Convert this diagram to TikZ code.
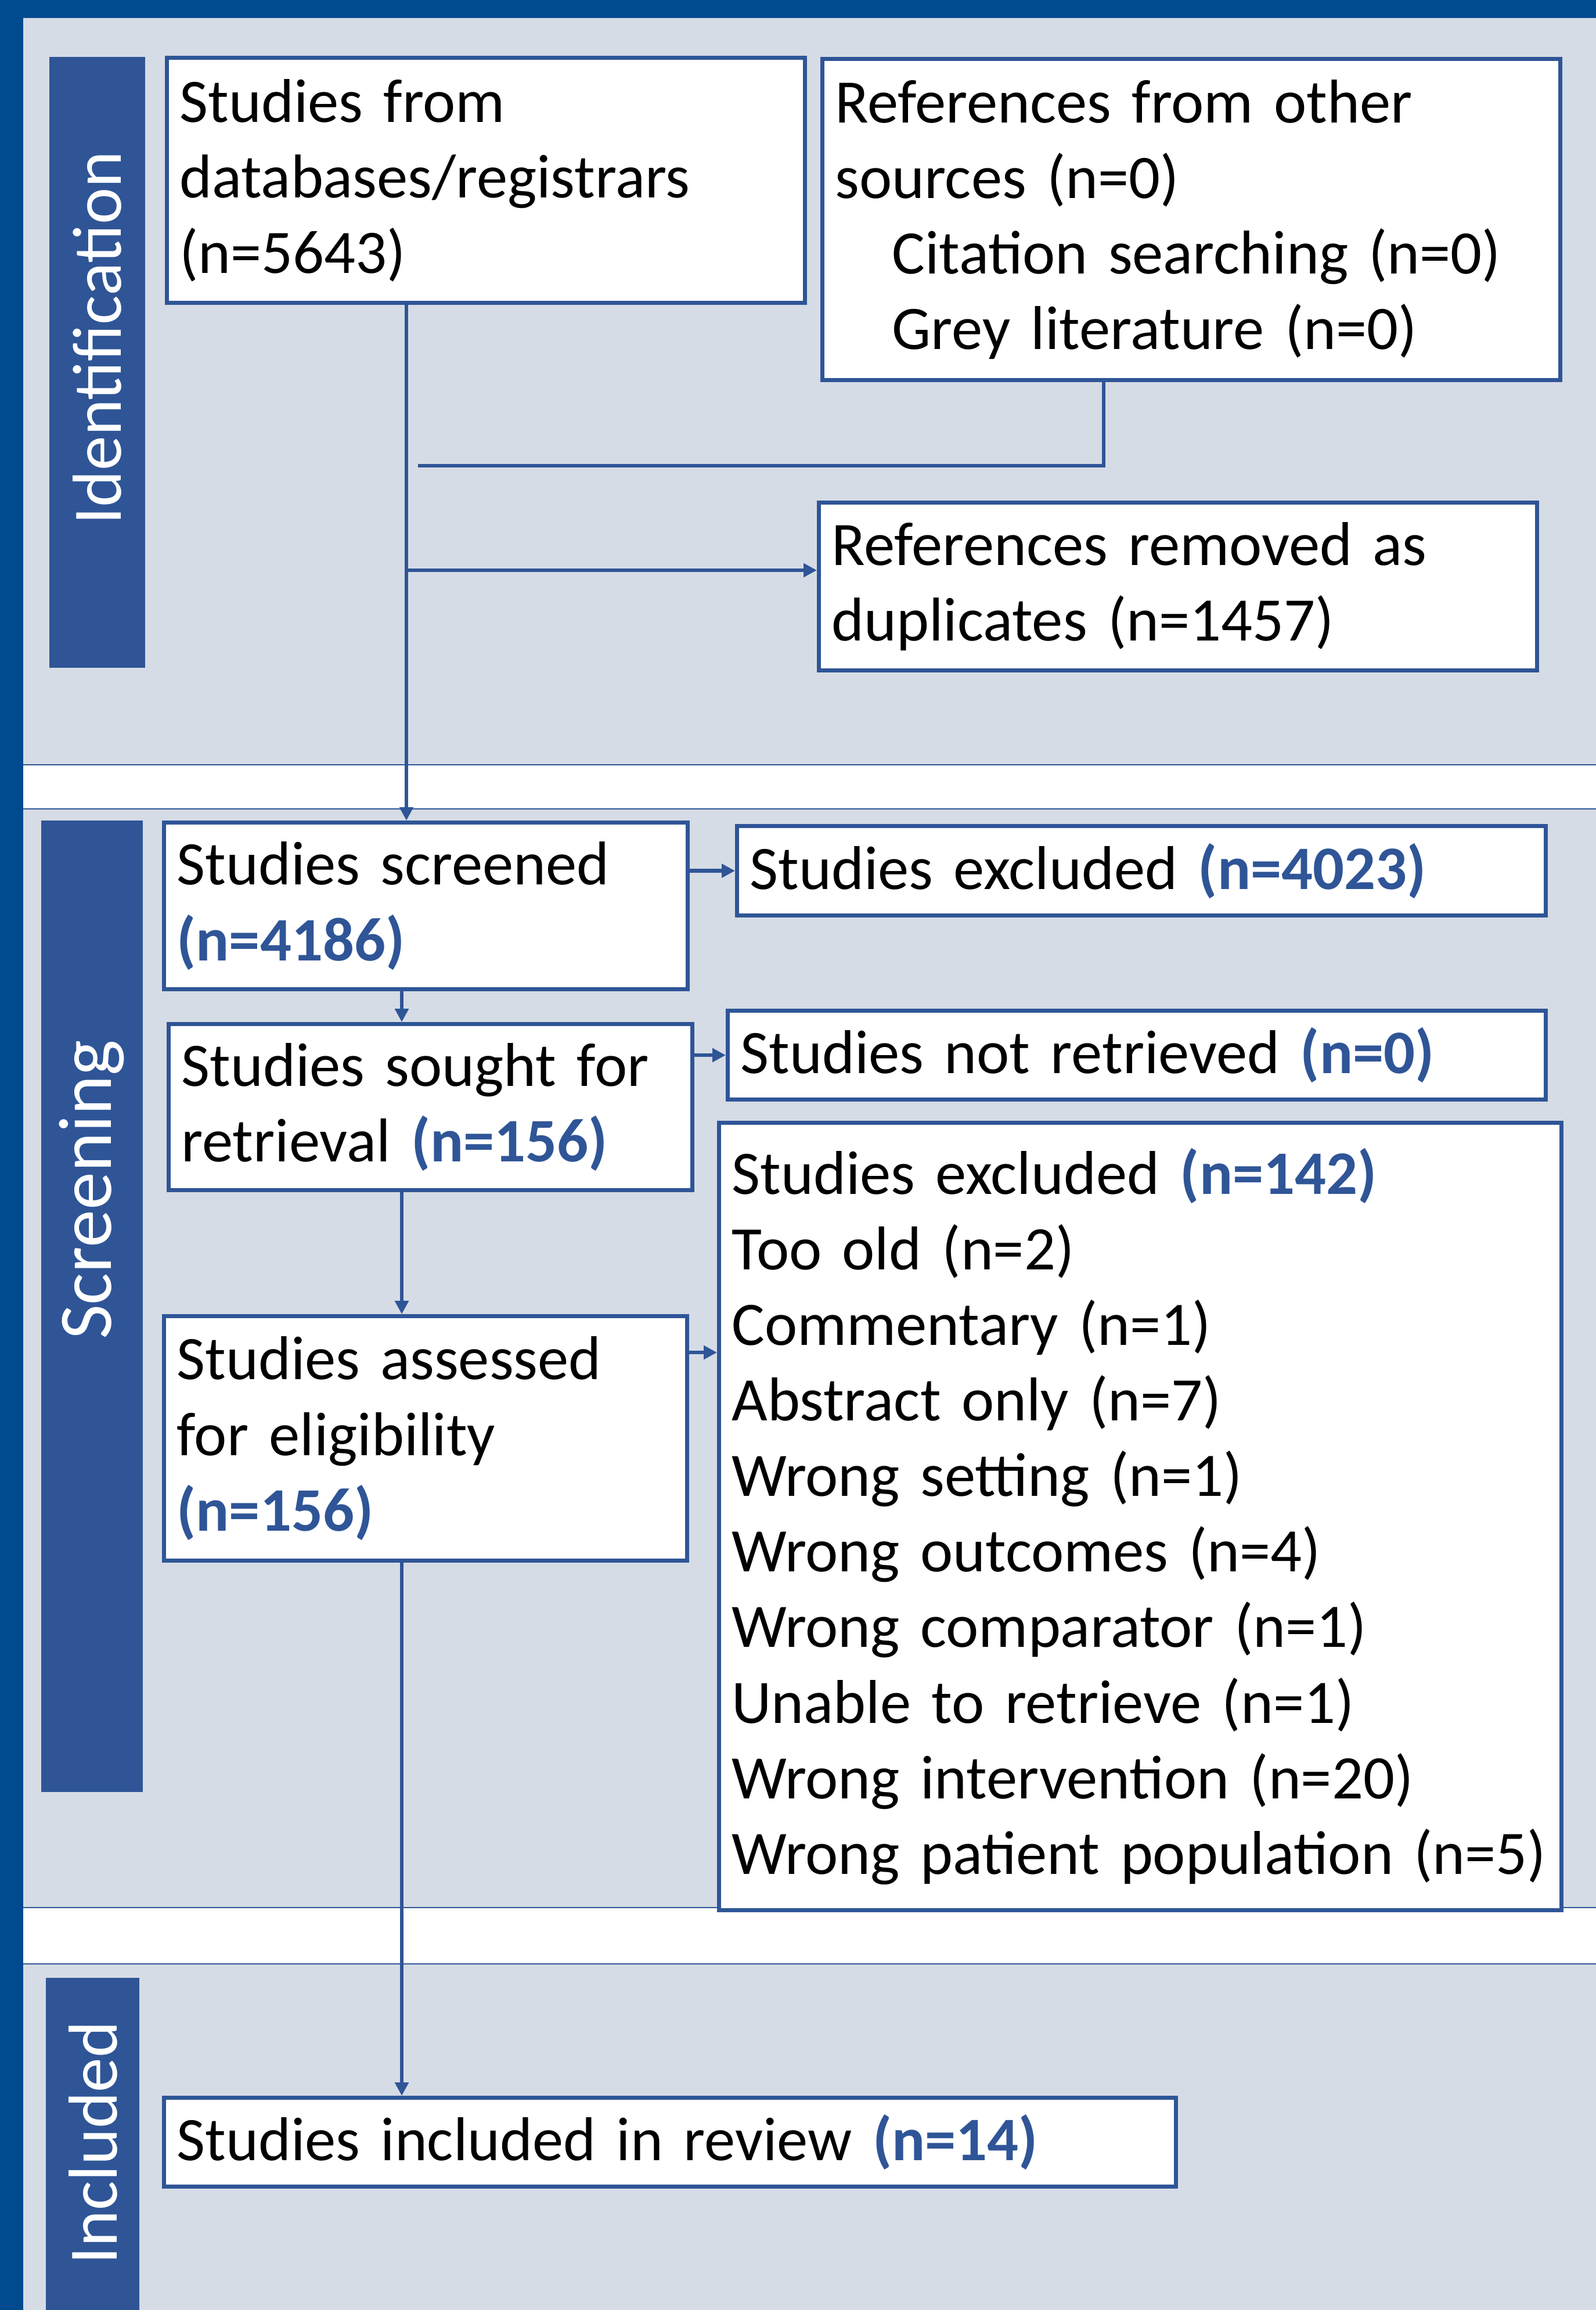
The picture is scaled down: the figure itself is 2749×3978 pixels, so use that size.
\documentclass[tikz,border=0pt]{standalone}
\usepackage{fontspec}
\setmainfont{Carlito}[WordSpace=0.7]
\usetikzlibrary{arrows.meta}

\definecolor{frameblue}{RGB}{0,74,143}
\definecolor{barblue}{RGB}{47,85,151}
\definecolor{boxblue}{RGB}{47,85,151}
\definecolor{bandgray}{RGB}{214,220,229}
\newcommand{\nblue}[1]{\textcolor{boxblue}{\textbf{#1}}}

\tikzset{
  stage/.style={draw=boxblue, line width=2pt, fill=white, anchor=north west,
    align=left, inner xsep=0.22cm, inner ysep=0pt,
    font=\fontsize{30.3}{37}\selectfont},
  phase/.style={rotate=90, text=white, font=\fontsize{34}{40}\selectfont},
  flow/.style={draw=boxblue, line width=1.8pt},
  arrow/.style={flow, -{Triangle[length=0.23cm,width=0.23cm]}},
  sep/.style={draw=boxblue, line width=0.6pt}
}

\begin{document}
\begin{tikzpicture}[x=0.01cm, y=-0.01cm]
  \useasboundingbox (0,0) rectangle (2749,3978);

  % frame and bands
  \fill[frameblue] (0,0) rectangle (2749,3978);
  \fill[bandgray] (40,31) rectangle (2749,1317);
  \fill[white] (40,1317) rectangle (2749,1393);
  \fill[bandgray] (40,1393) rectangle (2749,3285);
  \fill[white] (40,3285) rectangle (2749,3382);
  \fill[bandgray] (40,3382) rectangle (2749,3978);
  \draw[sep] (40,1317) -- (2749,1317);
  \draw[sep] (40,1393) -- (2749,1393);
  \draw[sep] (40,3285) -- (2749,3285);
  \draw[sep] (40,3382) -- (2749,3382);

  % phase bars
  \fill[barblue] (85,98) rectangle (250,1150);
  \fill[barblue] (71,1413) rectangle (246,3086);
  \fill[barblue] (79,3406) rectangle (240,3978);
  \node[phase] (ident) at (167,582) {Identification};
  \node[phase, font=\fontsize{37}{44}\selectfont] (screen) at (158,2049) {Screening};
  \node[phase] (incl) at (160,3690) {Included};

  % identification
  \node[stage, text width=10.54cm, minimum height=4.22cm] (db) at (284,96)
    {Studies from\\databases/registrars\\(n=5643)};
  \node[stage, text width=12.26cm, minimum height=5.53cm] (ref) at (1413,98)
    {References from other\\sources (n=0)\\\hspace*{0.98cm}Citation searching (n=0)\\\hspace*{0.98cm}Grey literature (n=0)};
  \node[stage, text width=11.92cm, minimum height=2.89cm] (dup) at (1407,862)
    {References removed as\\duplicates (n=1457)};

  % screening
  \node[stage, text width=8.57cm, minimum height=2.87cm] (scr) at (279,1413)
    {Studies screened\\\nblue{(n=4186)}};
  \node[stage, text width=13.48cm, minimum height=1.54cm] (exc) at (1266,1419)
    {Studies excluded \nblue{(n=4023)}};
  \node[stage, text width=8.57cm, minimum height=2.86cm] (sgt) at (287,1760)
    {Studies sought for\\retrieval \nblue{(n=156)}};
  \node[stage, text width=13.64cm, minimum height=1.53cm] (nrt) at (1250,1737)
    {Studies not retrieved \nblue{(n=0)}};
  \node[stage, text width=8.56cm, minimum height=4.21cm] (asd) at (279,2263)
    {Studies assessed\\for eligibility\\\nblue{(n=156)}};
  \node[stage, text width=14.06cm, minimum height=13.55cm] (ex142) at (1235,1930)
    {Studies excluded \nblue{(n=142)}\\Too old (n=2)\\Commentary (n=1)\\Abstract only (n=7)\\Wrong setting (n=1)\\Wrong outcomes (n=4)\\Wrong comparator (n=1)\\Unable to retrieve (n=1)\\Wrong intervention (n=20)\\Wrong~patient~population~(n=5)};

  % included
  \node[stage, text width=16.98cm, minimum height=1.53cm] (inc) at (279,3609)
    {Studies included in review \nblue{(n=14)}};

  % connectors
  \coordinate (spine) at (700,0);
  \coordinate (stem) at (692,0);
  \coordinate (refdrop) at (1901,0);
  \coordinate (merge) at (720,802);
  \coordinate (dupy) at (0,982);
  \coordinate (asdy) at ([yshift=-0.66cm]asd.north east);
  \draw[flow] (ref.south -| refdrop) |- (merge);
  \draw[arrow] (db.south -| spine) -- (scr.north -| spine);
  \draw[arrow] (spine |- dupy) -- (dup.west |- dupy);
  \draw[arrow] (scr.south -| stem) -- (sgt.north -| stem);
  \draw[arrow] (sgt.south -| stem) -- (asd.north -| stem);
  \draw[arrow] (asd.south -| stem) -- (inc.north -| stem);
  \draw[arrow] (scr.east |- exc.west) -- (exc.west);
  \draw[arrow] (sgt.east |- nrt.west) -- (nrt.west);
  \draw[arrow] (asdy) -- (asdy -| ex142.west);
\end{tikzpicture}
\end{document}
